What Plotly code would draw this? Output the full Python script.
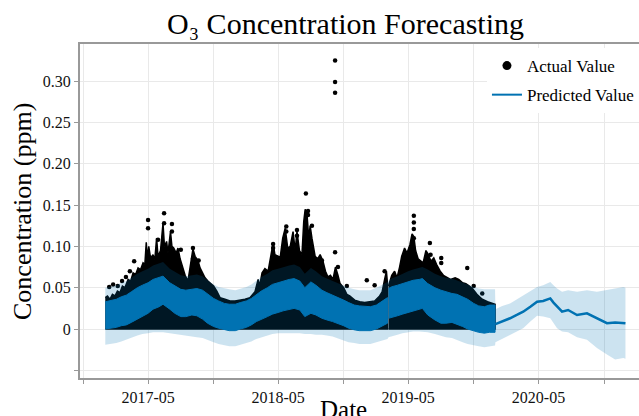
import plotly.graph_objects as go

# ---------------- data ----------------
# Model fit over the observed period (semi-monthly readings); None marks the data gap
hist_dates = ["2017-01-01", "2017-01-15", "2017-02-01", "2017-02-15", "2017-03-01", "2017-03-15",
              "2017-04-01", "2017-04-15", "2017-05-01", "2017-05-15", "2017-06-01", "2017-06-12",
              "2017-07-01", "2017-07-15", "2017-08-01", "2017-08-15", "2017-09-01", "2017-09-15",
              "2017-10-01", "2017-10-15", "2017-11-01", "2017-11-15", "2017-12-01", "2017-12-15",
              "2018-01-01", "2018-01-15", "2018-02-01", "2018-02-15", "2018-03-01", "2018-03-15",
              "2018-04-01", "2018-04-15", "2018-05-01", "2018-05-15", "2018-06-01", "2018-06-15",
              "2018-07-01", "2018-07-15", "2018-08-01", "2018-08-15", "2018-09-01", "2018-09-15",
              "2018-10-01", "2018-10-15", "2018-11-01", "2018-11-15", "2018-12-01", "2018-12-15",
              "2019-01-01", "2019-01-15", "2019-02-01", "2019-02-15", "2019-03-04", None,
              "2019-03-07", "2019-03-15", "2019-04-01", "2019-04-15", "2019-05-01", "2019-05-15",
              "2019-06-01", "2019-06-10", "2019-06-25", "2019-07-15", "2019-08-01", "2019-08-15",
              "2019-09-01", "2019-09-15", "2019-10-01", "2019-10-15", "2019-11-01", "2019-11-15",
              "2019-12-01", "2019-12-15", "2019-12-31"]
hist_yhat_min = [0.000, 0.001, 0.002, 0.004, 0.005, 0.008, 0.012, 0.015, 0.019, 0.024, 0.027, 0.030,
                 0.024, 0.019, 0.015, 0.015, 0.017, 0.016, 0.012, 0.007, 0.003, 0.001, -0.001, -0.002,
                 -0.002, 0.000, 0.002, 0.005, 0.009, 0.012, 0.015, 0.018, 0.020, 0.022, 0.024, 0.025,
                 0.023, 0.015, 0.019, 0.017, 0.013, 0.011, 0.009, 0.007, 0.004, 0.001, -0.001, -0.002,
                 -0.002, -0.002, 0.000, 0.003, 0.007, None,
                 0.013, 0.014, 0.016, 0.018, 0.020, 0.022, 0.024, 0.025, 0.017, 0.011, 0.007, 0.007,
                 0.008, 0.006, 0.003, 0.000, -0.002, -0.004, -0.005, -0.004, -0.004]
hist_yhat_max = [0.033, 0.034, 0.036, 0.039, 0.041, 0.045, 0.050, 0.053, 0.056, 0.060, 0.062, 0.064,
                 0.056, 0.052, 0.048, 0.047, 0.048, 0.049, 0.047, 0.042, 0.037, 0.034, 0.031, 0.030,
                 0.030, 0.032, 0.034, 0.037, 0.042, 0.046, 0.050, 0.054, 0.056, 0.058, 0.060, 0.061,
                 0.058, 0.050, 0.057, 0.053, 0.047, 0.044, 0.041, 0.039, 0.035, 0.032, 0.029, 0.028,
                 0.027, 0.027, 0.029, 0.033, 0.038, None,
                 0.049, 0.051, 0.053, 0.055, 0.057, 0.059, 0.060, 0.061, 0.055, 0.050, 0.047, 0.045,
                 0.043, 0.042, 0.039, 0.036, 0.031, 0.028, 0.027, 0.029, 0.029]
hist_band_lo = [-0.019, -0.018, -0.017, -0.015, -0.013, -0.011, -0.008, -0.006, -0.005, -0.004, -0.004, -0.004,
                -0.005, -0.006, -0.007, -0.008, -0.009, -0.010, -0.011, -0.013, -0.016, -0.018, -0.020, -0.021,
                -0.021, -0.019, -0.017, -0.015, -0.012, -0.010, -0.008, -0.006, -0.005, -0.005, -0.005, -0.005,
                -0.005, -0.006, -0.006, -0.007, -0.007, -0.008, -0.009, -0.011, -0.014, -0.016, -0.017, -0.018,
                -0.018, -0.018, -0.016, -0.014, -0.012, None,
                -0.010, -0.009, -0.007, -0.005, -0.004, -0.003, -0.003, -0.003, -0.004, -0.006, -0.008, -0.010,
                -0.011, -0.013, -0.016, -0.018, -0.020, -0.021, -0.022, -0.021, -0.020]
hist_band_hi = [0.050, 0.051, 0.053, 0.056, 0.058, 0.062, 0.067, 0.070, 0.073, 0.077, 0.079, 0.081,
                0.073, 0.069, 0.065, 0.064, 0.065, 0.066, 0.064, 0.059, 0.054, 0.051, 0.049, 0.048,
                0.047, 0.049, 0.051, 0.054, 0.059, 0.063, 0.067, 0.071, 0.073, 0.075, 0.077, 0.078,
                0.075, 0.067, 0.074, 0.070, 0.064, 0.061, 0.058, 0.056, 0.053, 0.050, 0.048, 0.047,
                0.047, 0.047, 0.050, 0.053, 0.057, None,
                0.059, 0.061, 0.064, 0.067, 0.070, 0.072, 0.074, 0.075, 0.072, 0.067, 0.064, 0.062,
                0.061, 0.059, 0.056, 0.054, 0.051, 0.049, 0.048, 0.048, 0.048]

# Forecast period
fc_dates = ["2020-01-01", "2020-01-20", "2020-02-11", "2020-03-01", "2020-03-19", "2020-04-08",
            "2020-04-27", "2020-05-14", "2020-06-03", "2020-06-12", "2020-06-22", "2020-07-06",
            "2020-07-23", "2020-08-17", "2020-09-14", "2020-10-12", "2020-11-09", "2020-12-02",
            "2020-12-25", "2020-12-31"]
fc_yhat = [0.006, 0.009, 0.013, 0.017, 0.021, 0.027, 0.033, 0.034, 0.037, 0.032, 0.027, 0.021,
           0.023, 0.017, 0.019, 0.013, 0.007, 0.008, 0.007, 0.007]
fc_lo = [-0.016, -0.011, -0.007, -0.003, 0.001, 0.009, 0.016, 0.015, 0.013, 0.007, 0.001, -0.003,
         -0.004, -0.010, -0.013, -0.023, -0.031, -0.037, -0.035, -0.036]
fc_hi = [0.024, 0.028, 0.031, 0.036, 0.041, 0.046, 0.051, 0.053, 0.057, 0.053, 0.049, 0.045,
         0.047, 0.045, 0.047, 0.045, 0.047, 0.049, 0.051, 0.050]

# Top of the dense cloud of actual hourly values (None marks the data gap)
act_dates = ["2017-01-01", "2017-01-07", "2017-01-14", "2017-01-21", "2017-01-28", "2017-02-04",
             "2017-02-11", "2017-02-18", "2017-02-25", "2017-03-06", "2017-03-13", "2017-03-20",
             "2017-03-27", "2017-04-03", "2017-04-10", "2017-04-17", "2017-04-22", "2017-04-26",
             "2017-04-29", "2017-05-03", "2017-05-08", "2017-05-15", "2017-05-20", "2017-05-25",
             "2017-05-29", "2017-06-05", "2017-06-12", "2017-06-16", "2017-06-22", "2017-06-26",
             "2017-07-03", "2017-07-07", "2017-07-12", "2017-07-19", "2017-07-24", "2017-07-30",
             "2017-08-06", "2017-08-13", "2017-08-21", "2017-08-28", "2017-09-04", "2017-09-10",
             "2017-09-18", "2017-09-24", "2017-09-30", "2017-10-08", "2017-10-16", "2017-10-24",
             "2017-11-01", "2017-11-10", "2017-11-19", "2017-12-03", "2017-12-17", "2017-12-31",
             "2018-01-14", "2018-01-28", "2018-02-11", "2018-02-25", "2018-03-06", "2018-03-10",
             "2018-03-17", "2018-03-25", "2018-04-03", "2018-04-10", "2018-04-17", "2018-04-22",
             "2018-05-01", "2018-05-07", "2018-05-14", "2018-05-21", "2018-05-28", "2018-06-04",
             "2018-06-12", "2018-06-18", "2018-06-23", "2018-06-30", "2018-07-07", "2018-07-12",
             "2018-07-16", "2018-07-21", "2018-07-26", "2018-07-30", "2018-08-04", "2018-08-13",
             "2018-08-20", "2018-08-27", "2018-09-04", "2018-09-11", "2018-09-18", "2018-09-25",
             "2018-10-02", "2018-10-09", "2018-10-16", "2018-10-22", "2018-11-01", "2018-11-10",
             "2018-11-18", "2018-12-02", "2018-12-16", "2018-12-30", "2019-01-13", "2019-01-27",
             "2019-02-10", "2019-02-17", "2019-02-24", "2019-03-01", "2019-03-04", None,
             "2019-03-07", "2019-03-16", "2019-03-24", "2019-03-31", "2019-04-07", "2019-04-13",
             "2019-04-21", "2019-04-28", "2019-05-06", "2019-05-12", "2019-05-17", "2019-05-22",
             "2019-05-29", "2019-06-05", "2019-06-12", "2019-06-20", "2019-06-27", "2019-07-04",
             "2019-07-12", "2019-07-20", "2019-07-30", "2019-08-08", "2019-08-18", "2019-08-28",
             "2019-09-10", "2019-09-20", "2019-10-01", "2019-10-10", "2019-10-20", "2019-10-30",
             "2019-11-10", "2019-11-25", "2019-12-10", "2019-12-23", "2019-12-31"]
act_top = [0.038, 0.040, 0.036, 0.042, 0.040, 0.046,
           0.044, 0.052, 0.050, 0.060, 0.058, 0.068,
           0.066, 0.074, 0.072, 0.080, 0.078, 0.105,
           0.085, 0.100, 0.086, 0.090, 0.084, 0.110,
           0.088, 0.095, 0.128, 0.100, 0.106, 0.092,
           0.118, 0.100, 0.098, 0.092, 0.098, 0.085,
           0.075, 0.065, 0.058, 0.080, 0.097, 0.088,
           0.083, 0.074, 0.068, 0.062, 0.058, 0.055,
           0.052, 0.046, 0.038, 0.036, 0.034, 0.034,
           0.035, 0.036, 0.038, 0.045, 0.060, 0.052,
           0.068, 0.073, 0.070, 0.085, 0.104, 0.090,
           0.088, 0.087, 0.110, 0.122, 0.098, 0.100,
           0.118, 0.095, 0.118, 0.095, 0.090, 0.130,
           0.145, 0.140, 0.110, 0.125, 0.110, 0.088,
           0.085, 0.090, 0.082, 0.070, 0.063, 0.065,
           0.060, 0.075, 0.065, 0.055, 0.050, 0.042,
           0.040, 0.035, 0.033, 0.032, 0.033, 0.034,
           0.040, 0.045, 0.060, 0.070, 0.055, None,
           0.052, 0.065, 0.070, 0.062, 0.075, 0.088,
           0.098, 0.092, 0.102, 0.115, 0.112, 0.095,
           0.085, 0.082, 0.080, 0.095, 0.090, 0.082,
           0.086, 0.078, 0.070, 0.065, 0.063, 0.060,
           0.062, 0.060, 0.056, 0.055, 0.052, 0.048,
           0.042, 0.036, 0.033, 0.031, 0.030]

# Individual actual values standing out above the cloud
dot_dates = ["2017-01-12", "2017-01-23", "2017-02-05", "2017-02-17", "2017-02-28", "2017-03-11",
             "2017-03-23", "2017-05-01", "2017-05-01", "2017-05-29", "2017-06-15", "2017-06-15",
             "2017-07-07", "2017-07-07", "2017-08-01", "2017-09-04", "2017-09-04", "2017-09-20",
             "2018-04-17", "2018-04-17", "2018-05-24", "2018-05-24", "2018-06-23", "2018-06-23",
             "2018-07-18", "2018-07-24", "2018-07-24", "2018-08-04", "2018-09-01", "2018-10-08",
             "2018-10-08", "2018-10-08", "2018-10-08", "2018-10-16", "2018-11-10", "2019-01-05",
             "2019-01-27", "2019-02-24", "2019-05-09", "2019-05-17", "2019-05-17", "2019-05-17",
             "2019-05-17", "2019-07-01", "2019-07-03", "2019-08-02", "2019-08-02", "2019-10-14",
             "2019-11-01", "2019-11-25"]
dot_vals = [0.051, 0.054, 0.052, 0.058, 0.063, 0.070,
            0.082, 0.132, 0.122, 0.108, 0.140, 0.128,
            0.127, 0.118, 0.096, 0.098, 0.085, 0.083,
            0.103, 0.098, 0.124, 0.118, 0.120, 0.113,
            0.164, 0.143, 0.138, 0.125, 0.083, 0.325,
            0.299, 0.286, 0.093, 0.075, 0.052, 0.059,
            0.053, 0.070, 0.099, 0.137, 0.129, 0.121,
            0.110, 0.104, 0.090, 0.086, 0.080, 0.074,
            0.052, 0.043]

x_tickvals = ["2016-11-01", "2017-05-01", "2017-11-01", "2018-05-01", "2018-11-01",
              "2019-05-01", "2019-11-01", "2020-05-01", "2020-11-01"]
x_ticktext = ["", "2017-05", "", "2018-05", "", "2019-05", "", "2020-05", ""]
y_tickvals = [-0.05, 0, 0.05, 0.10, 0.15, 0.20, 0.25, 0.30]
y_ticktext = ["", "0", "0.05", "0.10", "0.15", "0.20", "0.25", "0.30"]

BLUE = "#0072B2"
FONT = "Liberation Serif"


def segments(dates, *cols):
    """Split parallel lists at None separators."""
    segs, cur = [], [[] for _ in range(len(cols) + 1)]
    for i, d in enumerate(dates):
        if d is None:
            segs.append(cur)
            cur = [[] for _ in range(len(cols) + 1)]
            continue
        cur[0].append(d)
        for k, c in enumerate(cols):
            cur[k + 1].append(c[i])
    segs.append(cur)
    return segs


def polygon(segs):
    xs, ys = [], []
    for s in segs:
        d, lo, hi = s
        if xs:
            xs.append(None)
            ys.append(None)
        xs += d + d[::-1]
        ys += hi + lo[::-1]
    return xs, ys


fig = go.Figure()

# actual values: dense cloud from zero to its upper edge
act_segs = [[s[0], [0] * len(s[0]), s[1]] for s in segments(act_dates, act_top)]
ax, ay = polygon(act_segs)
fig.add_trace(go.Scatter(x=ax, y=ay, fill="toself", fillcolor="black", mode="lines",
                         line=dict(color="black", width=1.5), showlegend=False, hoverinfo="skip"))
fig.add_trace(go.Scatter(x=dot_dates, y=dot_vals, mode="markers",
                         marker=dict(color="black", size=4.5), showlegend=False))

# fitted values over history (daily oscillation forms a solid band)
hx, hy = polygon(segments(hist_dates, hist_yhat_min, hist_yhat_max))
fig.add_trace(go.Scatter(x=hx, y=hy, fill="toself", fillcolor=BLUE, mode="lines",
                         line=dict(color=BLUE, width=1), showlegend=False, hoverinfo="skip"))
# forecast line
fig.add_trace(go.Scatter(x=fc_dates, y=fc_yhat, mode="lines", line=dict(color=BLUE, width=2.5),
                         showlegend=False))

# uncertainty interval
band_d = [d for d in hist_dates if d is not None] + fc_dates
band_lo = [v for v in hist_band_lo if v is not None] + fc_lo
band_hi = [v for v in hist_band_hi if v is not None] + fc_hi
bx, by = polygon([[band_d, band_lo, band_hi]])
fig.add_trace(go.Scatter(x=bx, y=by, fill="toself", fillcolor="rgba(0,114,178,0.2)", mode="lines",
                         line=dict(width=0), showlegend=False, hoverinfo="skip"))

# legend entries
fig.add_trace(go.Scatter(x=[None], y=[None], mode="markers", marker=dict(color="black", size=9),
                         name="Actual Value", legendgroup="a"))
fig.add_trace(go.Scatter(x=[None], y=[None], mode="lines", line=dict(color=BLUE, width=2),
                         name="Predicted Value", legendgroup="b"))

axis_common = dict(showline=True, linecolor="#999999", linewidth=2, ticks="outside", ticklen=4,
                   tickcolor="#999999", showgrid=True, gridcolor="#e9e9e9", gridwidth=1,
                   zeroline=False, automargin=False,
                   tickfont=dict(family=FONT, size=16, color="#111111"))

fig.update_layout(
    width=639, height=416,
    margin=dict(l=80, r=0, t=44, b=38, autoexpand=False),
    paper_bgcolor="white", plot_bgcolor="white",
    font=dict(family=FONT, color="black"),
    xaxis=dict(type="date", range=["2016-10-22", "2021-02-07"], tickmode="array",
               tickvals=x_tickvals, ticktext=x_ticktext, mirror=True, **axis_common),
    yaxis=dict(range=[-0.0593, 0.345], tickmode="array", tickvals=y_tickvals,
               ticktext=y_ticktext, **axis_common),
    legend=dict(x=0.728, y=0.988, xanchor="left", yanchor="top", bgcolor="white",
                font=dict(family=FONT, size=17, color="black"), tracegroupgap=4),
    showlegend=True,
    annotations=[
        dict(text="O₃ Concentration Forecasting", xref="paper", yref="paper",
             x=0.4758, y=1.0, yshift=21, xanchor="center", yanchor="middle", showarrow=False,
             font=dict(family=FONT, size=30, color="black")),
        dict(text="Concentration (ppm)", xref="paper", yref="paper", x=-0.1038, y=0.5,
             xanchor="center", yanchor="middle", textangle=-90, showarrow=False,
             font=dict(family=FONT, size=26, color="black")),
        dict(text="Date", xref="paper", yref="paper", x=0.4705, y=-0.047,
             xanchor="center", yanchor="top", showarrow=False,
             font=dict(family=FONT, size=25, color="black")),
    ],
)

fig.write_html("out.html", config={"displayModeBar": False},
               post_script="document.body.style.margin='0';document.body.style.overflow='hidden';")
